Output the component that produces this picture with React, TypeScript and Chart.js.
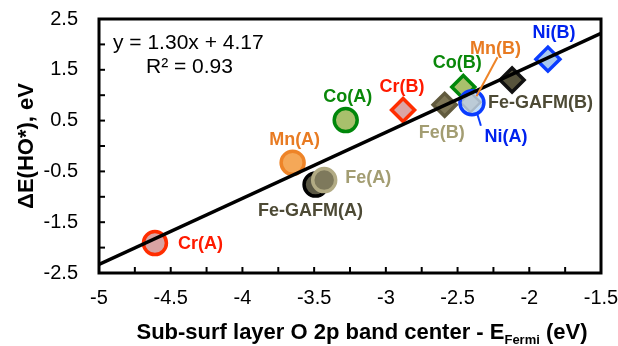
import React, { useEffect, useRef } from "react";
import { Chart, registerables } from "chart.js";
Chart.register(...registerables);

// ---- data ----
const names = ["Cr(A)", "Mn(A)", "Co(A)", "Fe-GAFM(A)", "Fe(A)", "Cr(B)", "Fe(B)", "Co(B)", "Mn(B)", "Ni(A)", "Fe-GAFM(B)", "Ni(B)"];
const bandCenter = [-4.61, -3.65, -3.28, -3.49, -3.43, -2.88, -2.59, -2.46, -2.41, -2.40, -2.12, -1.87];
const dEHO = [-1.91, -0.33, 0.51, -0.76, -0.67, 0.71, 0.81, 1.16, 0.86, 0.85, 1.30, 1.71];
const fitX = [-5, -1.5];
const fitY = [-2.33, 2.22];
const xTickValues = [-5, -4.75, -4.5, -4.25, -4, -3.75, -3.5, -3.25, -3, -2.75, -2.5, -2.25, -2, -1.75, -1.5];
const xTickLabels = ["-5", "", "-4.5", "", "-4", "", "-3.5", "", "-3", "", "-2.5", "", "-2", "", "-1.5"];
const yTickValues = [-2.5, -2, -1.5, -1, -0.5, 0, 0.5, 1, 1.5, 2, 2.5];
const yTickLabels = ["-2.5", "", "-1.5", "", "-0.5", "", "0.5", "", "1.5", "", "2.5"];
const equationText = "y = 1.30x + 4.17";
const r2Text = "R² = 0.93";

// ---- styles ----
const FONT = "'Liberation Sans', Arial, sans-serif";
const pointShape = ["circle", "circle", "circle", "circle", "circle", "rectRot", "rectRot", "rectRot", "rectRot", "circle", "rectRot", "rectRot"];
const pointFill = ["#d9a3a3", "#f5a858", "#a8c06c", "#5a5744", "#7e795c", "#dba5a5", "#7d7555", "#a9c06c", "#e8c9a0", "rgba(165,205,245,0.65)", "#57533c", "#a8c8ee"];
const pointBorder = ["#ff2d00", "#ee8428", "#00870a", "#000000", "#b2ab84", "#ff2d00", "#615a3e", "#00870a", "#b09070", "#0a3cff", "#111111", "#0a3cff"];
const pointRadius = [11.5, 11.5, 11.5, 11.5, 11.5, 11.5, 11.5, 11.5, 10, 12, 12, 12];
const pointBorderW = [3.5, 3.5, 3.5, 3.5, 3.5, 3.5, 3.5, 3.5, 2.5, 3.5, 3.5, 3.5];
const labelColor = ["#ff1a00", "#e87b22", "#0a880a", "#4d4a35", "#a39d72", "#ff1a00", "#a39d72", "#0a880a", "#e87b22", "#0022ee", "#4d4a35", "#0022ee"];
const labelPos: [number, number, CanvasTextAlign][] = [
  [23, 1, "left"], [2, -23, "center"], [2, -23, "center"], [-5, 26, "center"], [21, -2, "left"],
  [-1, -23, "center"], [-3, 28, "center"], [-6, -24, "center"], [25, -53, "center"], [34, 34, "center"],
  [-24, 23, "left"], [6, -26, "center"],
];
const leaders: [number, number, number, number, number, string][] = [
  [8, 27, -45, 6, -6, "#ee8428"],
  [9, 5, 10, 9, 23, "#0a3cff"],
];

const overlay = {
  id: "overlay",
  afterDatasetsDraw(chart: any) {
    const ctx = chart.ctx;
    const xs = chart.scales.x, ys = chart.scales.y;
    const ca = chart.chartArea;
    ctx.save();
    leaders.forEach(([i, x1, y1, x2, y2, c]) => {
      const px = xs.getPixelForValue(bandCenter[i]);
      const py = ys.getPixelForValue(dEHO[i]);
      ctx.strokeStyle = c;
      ctx.lineWidth = 2;
      ctx.beginPath();
      ctx.moveTo(px + x1, py + y1);
      ctx.lineTo(px + x2, py + y2);
      ctx.stroke();
    });
    ctx.font = `bold 18px ${FONT}`;
    ctx.textBaseline = "middle";
    names.forEach((n, i) => {
      const px = xs.getPixelForValue(bandCenter[i]);
      const py = ys.getPixelForValue(dEHO[i]);
      const [dx, dy, al] = labelPos[i];
      ctx.fillStyle = labelColor[i];
      ctx.textAlign = al;
      ctx.fillText(n, px + dx, py + dy);
    });
    ctx.fillStyle = "#000";
    ctx.font = `21px ${FONT}`;
    ctx.textAlign = "left";
    ctx.fillText(equationText, ca.left + 14, ca.top + 24);
    ctx.fillText(r2Text, ca.left + 47, ca.top + 48);

    // frame
    ctx.strokeStyle = "#000";
    ctx.lineWidth = 3;
    ctx.strokeRect(ca.left, ca.top, ca.right - ca.left, ca.bottom - ca.top);
    // inward ticks + tick labels
    ctx.lineWidth = 2;
    ctx.font = `20px ${FONT}`;
    xs.ticks.forEach((t: any, i: number) => {
      const p = xs.getPixelForValue(t.value);
      ctx.beginPath();
      ctx.moveTo(p, ca.bottom);
      ctx.lineTo(p, ca.bottom - 6);
      ctx.stroke();
      ctx.textAlign = "center";
      ctx.textBaseline = "middle";
      ctx.fillText(xTickLabels[i], p, ca.bottom + 25);
    });
    ys.ticks.forEach((t: any, i: number) => {
      const p = ys.getPixelForValue(t.value);
      ctx.beginPath();
      ctx.moveTo(ca.left, p);
      ctx.lineTo(ca.left + 6, p);
      ctx.stroke();
      ctx.textAlign = "right";
      ctx.textBaseline = "middle";
      ctx.fillText(yTickLabels[i], ca.left - 21, p);
    });

    // axis titles
    ctx.textBaseline = "alphabetic";
    const p1 = "Sub-surf layer O 2p band center - E";
    const p3 = " (eV)";
    ctx.font = `bold 22px ${FONT}`;
    const w1 = ctx.measureText(p1).width;
    const w3 = ctx.measureText(p3).width;
    ctx.font = `bold 13px ${FONT}`;
    const w2 = ctx.measureText("Fermi").width;
    const total = w1 + w2 + w3;
    const sx = 362 - total / 2;
    const by = 339;
    ctx.textAlign = "left";
    ctx.font = `bold 22px ${FONT}`;
    ctx.fillText(p1, sx, by);
    ctx.font = `bold 13px ${FONT}`;
    ctx.fillText("Fermi", sx + w1, by + 5);
    ctx.font = `bold 22px ${FONT}`;
    ctx.fillText(p3, sx + w1 + w2, by);

    ctx.translate(27, (ca.top + ca.bottom) / 2);
    ctx.rotate(-Math.PI / 2);
    ctx.textAlign = "center";
    ctx.textBaseline = "middle";
    ctx.fillText("ΔE(HO*), eV", 0, 0);
    ctx.restore();
  },
};

export default function App() {
  const ref = useRef<HTMLCanvasElement>(null);
  useEffect(() => {
    const chart = new Chart(ref.current as HTMLCanvasElement, {
      type: "scatter",
      data: {
        datasets: [
          {
            type: "line",
            data: fitX.map((x, i) => ({ x, y: fitY[i] })),
            borderColor: "#000",
            borderWidth: 3.5,
            pointRadius: 0,
            fill: false,
            order: 0,
          } as any,
          {
            data: bandCenter.map((x, i) => ({ x, y: dEHO[i] })),
            pointStyle: pointShape as any,
            backgroundColor: pointFill,
            borderColor: pointBorder,
            pointRadius: pointRadius,
            pointBorderWidth: pointBorderW,
            order: 1,
          } as any,
        ],
      },
      options: {
        animation: false,
        responsive: false,
        maintainAspectRatio: false,
        layout: { padding: { left: 0, right: 17, top: 19, bottom: 0 } },
        plugins: { legend: { display: false }, tooltip: { enabled: false } },
        scales: {
          x: {
            type: "linear",
            min: -5,
            max: -1.5,
            afterBuildTicks: (s: any) => { s.ticks = xTickValues.map((v) => ({ value: v })); },
            afterFit: (s: any) => { s.height = 73; },
            grid: { display: false, drawTicks: false },
            border: { display: false },
            ticks: { display: false },
          },
          y: {
            type: "linear",
            min: -2.5,
            max: 2.5,
            afterBuildTicks: (s: any) => { s.ticks = yTickValues.map((v) => ({ value: v })); },
            afterFit: (s: any) => { s.width = 99; },
            grid: { display: false, drawTicks: false },
            border: { display: false },
            ticks: { display: false },
          },
        },
      },
      plugins: [overlay],
    });
    return () => chart.destroy();
  }, []);
  return (
    <div style={{ position: "absolute", left: 0, top: 0, width: 618, height: 346, background: "#fff" }}>
      <canvas ref={ref} width={618} height={346} />
    </div>
  );
}
